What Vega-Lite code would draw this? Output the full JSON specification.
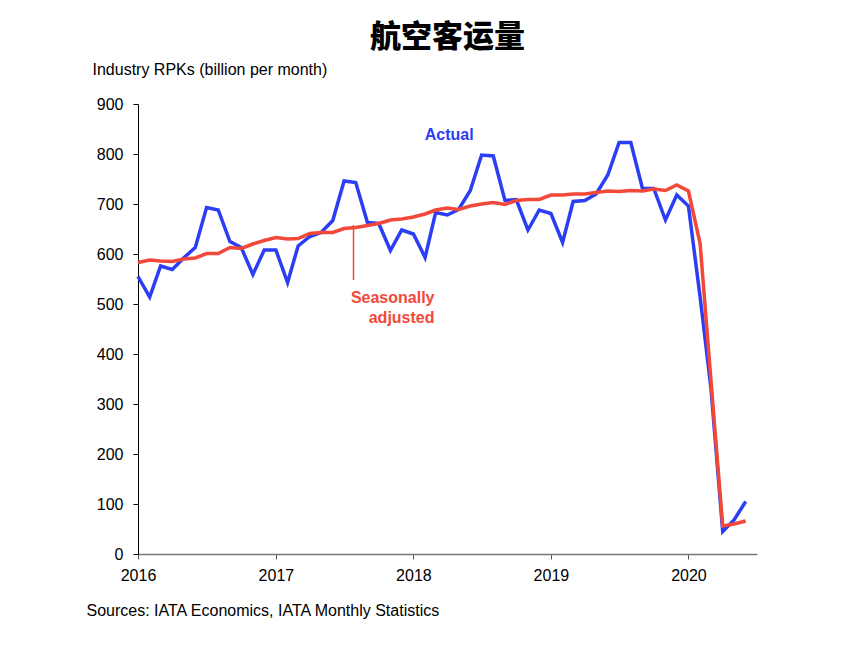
{
  "$schema": "https://vega.github.io/schema/vega-lite/v6.json",
  "autosize": {"type": "none"},
  "padding": {"left": 138, "top": 104, "right": 106, "bottom": 102},
  "width": 619,
  "height": 450,
  "background": "white",
  "title": {
    "text": "航空客运量",
    "font": "Noto Sans CJK SC",
    "fontSize": 31,
    "fontWeight": 900,
    "color": "#000000",
    "anchor": "middle",
    "frame": "group",
    "offset": 7
  },
  "config": {
    "view": {"stroke": null},
    "font": "Liberation Sans"
  },
  "datasets": {
    "rpk": [
      {"month": "2016-01-01", "actual": 555, "sa": 583},
      {"month": "2016-02-01", "actual": 514, "sa": 588},
      {"month": "2016-03-01", "actual": 576, "sa": 586},
      {"month": "2016-04-01", "actual": 569, "sa": 585},
      {"month": "2016-05-01", "actual": 592, "sa": 590},
      {"month": "2016-06-01", "actual": 613, "sa": 592},
      {"month": "2016-07-01", "actual": 693, "sa": 601},
      {"month": "2016-08-01", "actual": 688, "sa": 601},
      {"month": "2016-09-01", "actual": 625, "sa": 613},
      {"month": "2016-10-01", "actual": 613, "sa": 611},
      {"month": "2016-11-01", "actual": 559, "sa": 620},
      {"month": "2016-12-01", "actual": 608, "sa": 627},
      {"month": "2017-01-01", "actual": 608, "sa": 633},
      {"month": "2017-02-01", "actual": 543, "sa": 630},
      {"month": "2017-03-01", "actual": 616, "sa": 631},
      {"month": "2017-04-01", "actual": 635, "sa": 641},
      {"month": "2017-05-01", "actual": 643, "sa": 643},
      {"month": "2017-06-01", "actual": 667, "sa": 643},
      {"month": "2017-07-01", "actual": 746, "sa": 651},
      {"month": "2017-08-01", "actual": 743, "sa": 653},
      {"month": "2017-09-01", "actual": 663, "sa": 657},
      {"month": "2017-10-01", "actual": 661, "sa": 661},
      {"month": "2017-11-01", "actual": 607, "sa": 668},
      {"month": "2017-12-01", "actual": 648, "sa": 670},
      {"month": "2018-01-01", "actual": 640, "sa": 674},
      {"month": "2018-02-01", "actual": 593, "sa": 680},
      {"month": "2018-03-01", "actual": 683, "sa": 688},
      {"month": "2018-04-01", "actual": 678, "sa": 692},
      {"month": "2018-05-01", "actual": 689, "sa": 689},
      {"month": "2018-06-01", "actual": 727, "sa": 696},
      {"month": "2018-07-01", "actual": 798, "sa": 700},
      {"month": "2018-08-01", "actual": 796, "sa": 703},
      {"month": "2018-09-01", "actual": 707, "sa": 699},
      {"month": "2018-10-01", "actual": 709, "sa": 707},
      {"month": "2018-11-01", "actual": 648, "sa": 709},
      {"month": "2018-12-01", "actual": 688, "sa": 709},
      {"month": "2019-01-01", "actual": 681, "sa": 718},
      {"month": "2019-02-01", "actual": 623, "sa": 718},
      {"month": "2019-03-01", "actual": 705, "sa": 720},
      {"month": "2019-04-01", "actual": 707, "sa": 720},
      {"month": "2019-05-01", "actual": 720, "sa": 723},
      {"month": "2019-06-01", "actual": 758, "sa": 726},
      {"month": "2019-07-01", "actual": 823, "sa": 725},
      {"month": "2019-08-01", "actual": 823, "sa": 727},
      {"month": "2019-09-01", "actual": 731, "sa": 726},
      {"month": "2019-10-01", "actual": 731, "sa": 730},
      {"month": "2019-11-01", "actual": 668, "sa": 727},
      {"month": "2019-12-01", "actual": 718, "sa": 738},
      {"month": "2020-01-01", "actual": 696, "sa": 726},
      {"month": "2020-02-01", "actual": 514, "sa": 621},
      {"month": "2020-03-01", "actual": 330, "sa": 345},
      {"month": "2020-04-01", "actual": 45, "sa": 56},
      {"month": "2020-05-01", "actual": 68, "sa": 60},
      {"month": "2020-06-01", "actual": 105, "sa": 66}
    ],
    "labels": [
      {"month": "2018-06-10", "value": 838, "label": "Actual", "series": "actual"},
      {"month": "2018-02-26", "value": 512, "label": "Seasonally\nadjusted", "series": "sa"}
    ],
    "pointer": [
      {"month": "2017-07-26", "top": 658, "bottom": 548}
    ]
  },
  "layer": [
    {
      "data": {"name": "rpk"},
      "mark": {"type": "line", "color": "#2b3ef3", "strokeWidth": 3.5},
      "encoding": {
        "x": {
          "field": "month",
          "type": "temporal",
          "scale": {
            "domain": [
              {"year": 2016, "month": 1, "date": 1, "utc": true},
              {"year": 2020, "month": 7, "date": 1, "utc": true}
            ]
          },
          "axis": {
            "values": [
              {"year": 2016, "month": 1, "date": 1, "utc": true},
              {"year": 2017, "month": 1, "date": 1, "utc": true},
              {"year": 2018, "month": 1, "date": 1, "utc": true},
              {"year": 2019, "month": 1, "date": 1, "utc": true},
              {"year": 2020, "month": 1, "date": 1, "utc": true}
            ],
            "format": "%Y",
            "formatType": "utc",
            "labelFontSize": 16,
            "labelColor": "#000000",
            "labelPadding": 8,
            "tickSize": 5,
            "tickColor": "#555555",
            "domainColor": "#777777",
            "domainWidth": 1.5,
            "grid": false,
            "labelFlush": false,
            "title": "Sources: IATA Economics, IATA Monthly Statistics",
            "titleFontSize": 16,
            "titleFontWeight": "normal",
            "titleColor": "#000000",
            "titleAnchor": "start",
            "titleAlign": "left",
            "titleBaseline": "middle",
            "titleX": -52,
            "titleY": 56
          }
        },
        "y": {
          "field": "actual",
          "type": "quantitative",
          "scale": {"domain": [0, 900], "nice": false},
          "axis": {
            "values": [0, 100, 200, 300, 400, 500, 600, 700, 800, 900],
            "labelFontSize": 16,
            "labelColor": "#000000",
            "labelPadding": 10,
            "tickSize": 5,
            "tickColor": "#000000",
            "domainColor": "#000000",
            "grid": false,
            "title": "Industry RPKs (billion per month)",
            "titleAngle": 0,
            "titleAlign": "left",
            "titleBaseline": "middle",
            "titleFontSize": 16,
            "titleFontWeight": "normal",
            "titleColor": "#000000",
            "titleX": -46,
            "titleY": -35
          }
        }
      }
    },
    {
      "data": {"name": "rpk"},
      "mark": {"type": "line", "color": "#f2483a", "strokeWidth": 3.5},
      "encoding": {
        "x": {"field": "month", "type": "temporal"},
        "y": {"field": "sa", "type": "quantitative"}
      }
    },
    {
      "data": {"name": "pointer"},
      "mark": {"type": "rule", "color": "#f2483a", "strokeWidth": 1.5},
      "encoding": {
        "x": {"field": "month", "type": "temporal"},
        "y": {"field": "top", "type": "quantitative"},
        "y2": {"field": "bottom"}
      }
    },
    {
      "data": {"name": "labels"},
      "mark": {
        "type": "text",
        "fontSize": 16,
        "fontWeight": "bold",
        "align": "right",
        "baseline": "middle",
        "lineBreak": "\n",
        "lineHeight": 20
      },
      "encoding": {
        "x": {"field": "month", "type": "temporal"},
        "y": {"field": "value", "type": "quantitative"},
        "text": {"field": "label"},
        "color": {
          "field": "series",
          "type": "nominal",
          "scale": {"domain": ["actual", "sa"], "range": ["#2b3ef3", "#f2483a"]},
          "legend": null
        }
      }
    }
  ]
}
